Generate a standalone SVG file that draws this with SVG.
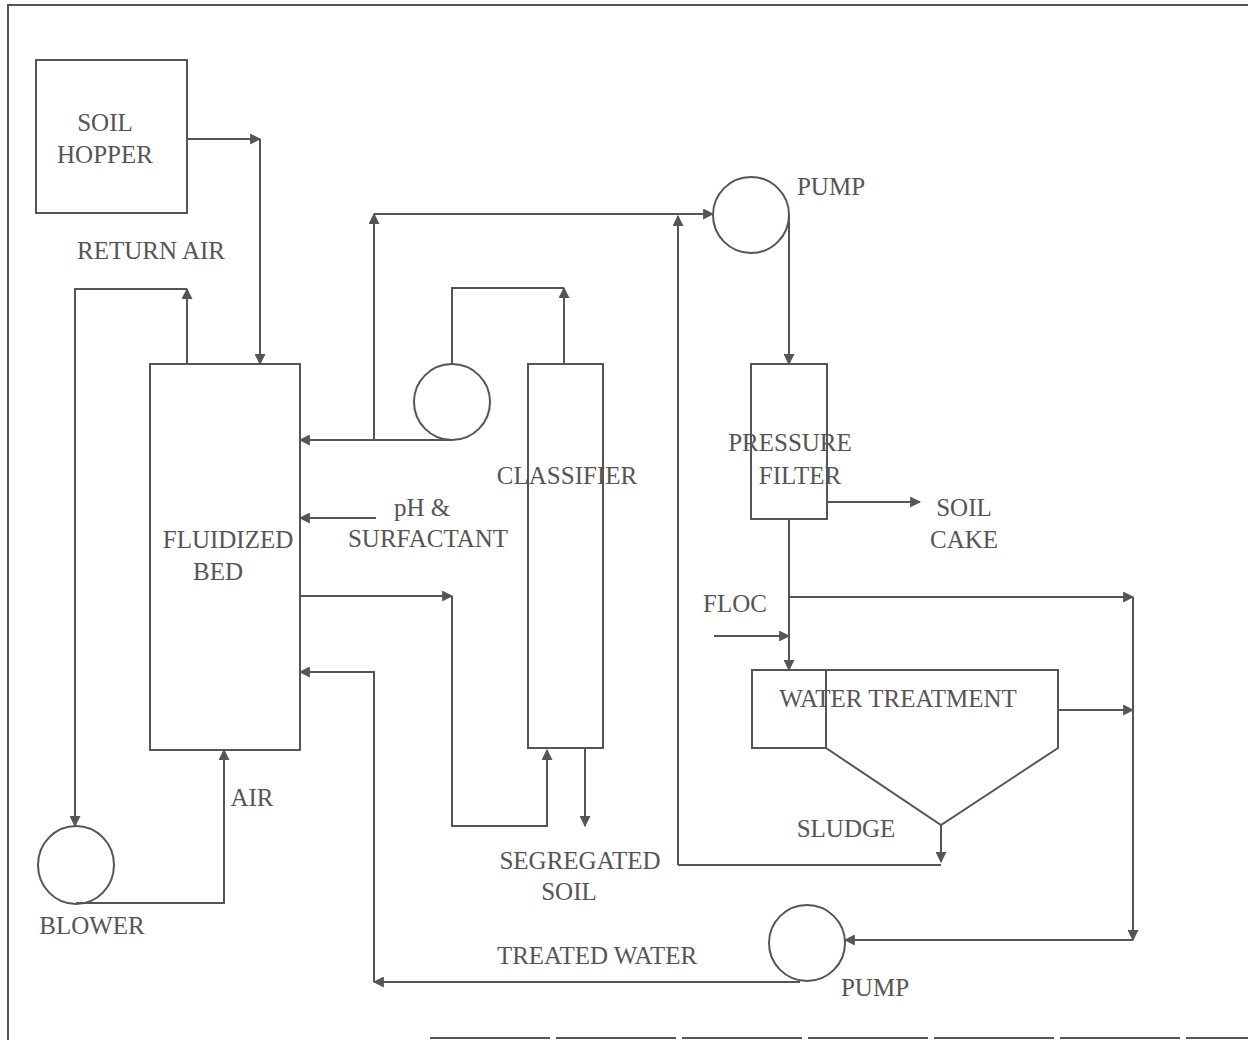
<svg xmlns="http://www.w3.org/2000/svg" width="1248" height="1040" viewBox="0 0 1248 1040">
<defs>
<marker id="ah" viewBox="0 0 10 10" refX="9" refY="5" markerWidth="11" markerHeight="11" markerUnits="userSpaceOnUse" orient="auto">
<path d="M0,0 L10,5 L0,10 z" fill="#555"/>
</marker>
<style>
.s{fill:none;stroke:#555;stroke-width:2}
.c{fill:none;stroke:#555;stroke-width:2}
.a{marker-end:url(#ah)}
text{font-family:"Liberation Serif","Times New Roman",serif;font-size:25px;fill:#555;text-anchor:middle}
</style>
</defs>
<rect width="1248" height="1040" fill="#fff"/>
<g id="border">
<path class="s" d="M8,1040 V5 H1248"/>
<path class="s" d="M430,1038 H1248" stroke-dasharray="120,6"/>
</g>
<g id="soil-hopper">
<rect class="s" x="36" y="60" width="151" height="153"/>
<text x="105" y="131">SOIL</text>
<text x="105" y="163">HOPPER</text>
</g>
<g id="fluidized-bed">
<rect class="s" x="150" y="364" width="150" height="386"/>
<text x="228" y="548">FLUIDIZED</text>
<text x="218" y="580">BED</text>
</g>
<g id="blower">
<ellipse class="s" cx="76" cy="865" rx="38" ry="39"/>
<text x="92" y="934">BLOWER</text>
</g>
<g id="recycle-pump">
<circle class="s" cx="452" cy="402" r="38"/>
</g>
<g id="classifier">
<rect class="s" x="528" y="364" width="75" height="384"/>
<text x="567" y="484">CLASSIFIER</text>
</g>
<g id="pump-top">
<circle class="s" cx="751" cy="215" r="38"/>
<text x="831" y="195">PUMP</text>
</g>
<g id="pressure-filter">
<rect class="s" x="751" y="364" width="76" height="155"/>
<text x="790" y="451">PRESSURE</text>
<text x="800" y="484">FILTER</text>
</g>
<g id="water-treatment">
<path class="s" d="M752,670 H1058 V748 L941,825 L826,748 H752 Z M826,670 V748"/>
<text x="898" y="707">WATER TREATMENT</text>
</g>
<g id="pump-bottom">
<ellipse class="s" cx="807" cy="943" rx="38" ry="38"/>
<text x="875" y="996">PUMP</text>
</g>
<g id="labels">
<text x="151" y="259">RETURN AIR</text>
<text x="252" y="806">AIR</text>
<text x="422" y="516">pH &amp;</text>
<text x="428" y="547">SURFACTANT</text>
<text x="580" y="869">SEGREGATED</text>
<text x="569" y="900">SOIL</text>
<text x="964" y="516">SOIL</text>
<text x="964" y="548">CAKE</text>
<text x="735" y="612">FLOC</text>
<text x="846" y="837">SLUDGE</text>
<text x="597" y="964">TREATED WATER</text>
</g>
<g id="connectors">
<path class="c a" d="M187,139 H260"/>
<path class="c a" d="M260,139 V364"/>
<path class="c a" d="M187,364 V289"/>
<path class="c a" d="M187,289 H75 V826"/>
<path class="c a" d="M76,903 H224 V750"/>
<path class="c a" d="M564,364 V288"/>
<path class="c" d="M564,288 H452 V364"/>
<path class="c a" d="M452,440 H300"/>
<path class="c a" d="M374,440 V214"/>
<path class="c a" d="M374,214 H713"/>
<path class="c a" d="M678,865 V216"/>
<path class="c a" d="M376,518 H300"/>
<path class="c a" d="M300,596 H452"/>
<path class="c a" d="M452,596 V826 H547 V750"/>
<path class="c a" d="M585,748 V826"/>
<path class="c a" d="M789,215 V364"/>
<path class="c a" d="M827,502 H920"/>
<path class="c a" d="M789,519 V670"/>
<path class="c a" d="M714,636 H789"/>
<path class="c a" d="M789,597 H1133"/>
<path class="c a" d="M1058,710 H1133"/>
<path class="c a" d="M1133,597 V940"/>
<path class="c a" d="M1133,940 H845"/>
<path class="c a" d="M941,825 V862"/>
<path class="c" d="M941,865 H678"/>
<path class="c a" d="M800,982 H374"/>
<path class="c a" d="M374,982 V672 H300"/>
</g>
</svg>
